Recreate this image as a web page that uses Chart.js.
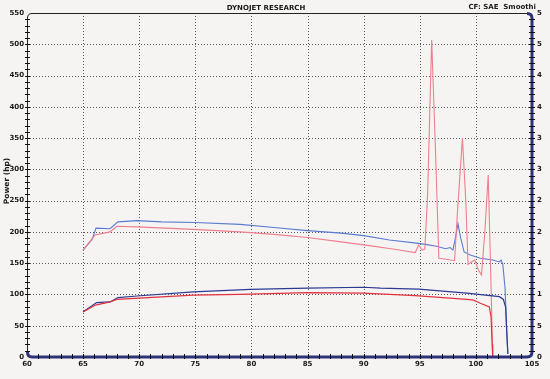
<!DOCTYPE html>
<html><head><meta charset="utf-8">
<script src="https://cdn.jsdelivr.net/npm/chart.js@4.4.0/dist/chart.umd.min.js"></script>
<style>html,body{margin:0;padding:0;background:#f5f4f2;}canvas{display:block;}</style>
</head><body>
<canvas id="c" width="550" height="379"></canvas>
<script>
// ---- data ----
const xTicks = [60, 65, 70, 75, 80, 85, 90, 95, 100, 105];
const yTicks = [0, 50, 100, 150, 200, 250, 300, 350, 400, 450, 500, 550];
const rightLabels = ["0", "5", "1", "1", "2", "2", "3", "3", "4", "4", "5", "5"];

const run1PowerRpm = [65.0, 65.8, 66.15, 67.4, 68.1, 69.8, 72, 75, 79, 82, 85, 88, 90, 92.3, 94.7, 95.5, 96.5, 97.3, 97.7, 97.95, 98.15, 98.4, 98.65, 98.95, 99.5, 100.4, 101.5, 102.1, 102.25, 102.4, 102.6, 102.75, 102.85];
const run1PowerHp  = [171, 188, 206, 205, 216, 218, 216, 215, 212, 207, 202, 198, 194, 187, 182, 180, 177, 173, 175, 171, 188, 213, 190, 168, 163, 158, 155, 152, 155, 148, 110, 40, 5];

const run2PowerRpm = [65.0, 66.06, 67.4, 68.0, 69.8, 74.8, 79, 82, 85, 88, 90.5, 92.9, 94.6, 94.9, 95.2, 95.45, 95.7, 96.06, 96.4, 96.7, 97.5, 98.1, 98.35, 98.8, 99.1, 99.3, 99.6, 99.9, 100.2, 100.5, 100.8, 101.1, 101.3, 101.5];
const run2PowerHp  = [171, 195, 200, 209, 208, 204, 200, 196, 191, 184, 178, 172, 167, 179, 171, 172, 260, 507, 330, 158, 156, 154, 230, 350, 250, 148, 152, 155, 140, 131, 200, 291, 150, 0];

const run1TorqueRpm = [65.0, 65.8, 66.2, 67.4, 68.1, 69.8, 74.8, 79.9, 85, 90, 91.5, 94.9, 99.2, 102.1, 102.45, 102.65, 102.75, 102.85];
const run1TorqueVal = [72.5, 82, 87, 88, 95, 97.5, 104, 108, 110, 111.5, 110, 108.5, 102, 96.5, 92, 80, 40, 5];

const run2TorqueRpm = [65.0, 66.1, 67.4, 68.0, 74.8, 79, 85, 90, 94.6, 99.2, 99.8, 100.4, 101.2, 101.35, 101.45, 101.5];
const run2TorqueVal = [72, 83, 88, 92, 99, 100, 103, 102, 98, 92, 91, 86, 80, 64, 20, 0];

const pts = (xs, ys) => xs.map((x, i) => ({x: x, y: ys[i]}));

const FONT = "'DejaVu Sans', Verdana, sans-serif";
const NAVY = '#2f3276';

const decor = {
  id: 'decor',
  beforeDraw(chart) {
    const c = chart.ctx;
    c.save();
    c.fillStyle = '#f5f4f2';
    c.fillRect(0, 0, chart.width, chart.height);
    c.restore();
  },
  beforeDatasetsDraw(chart) {
    const c = chart.ctx, xs = chart.scales.x, ys = chart.scales.y, a = chart.chartArea;
    c.save();
    c.strokeStyle = '#5a5a5a';
    c.lineWidth = 1;
    c.setLineDash([1, 2]);
    xTicks.forEach(v => {
      if (v === 60 || v === 105) return;
      const px = Math.round(xs.getPixelForValue(v)) + 0.5;
      c.beginPath(); c.moveTo(px, a.top); c.lineTo(px, a.bottom); c.stroke();
    });
    yTicks.forEach(v => {
      if (v === 0 || v === 550) return;
      const py = Math.round(ys.getPixelForValue(v)) + 0.5;
      c.beginPath(); c.moveTo(a.left, py); c.lineTo(a.right, py); c.stroke();
    });
    c.restore();
  },
  afterDraw(chart) {
    const c = chart.ctx, xs = chart.scales.x, ys = chart.scales.y, a = chart.chartArea;
    const L = a.left, R = a.right, T = a.top, B = a.bottom, r = 5;
    c.save();
    // thin top and left border
    c.strokeStyle = '#222';
    c.lineWidth = 1;
    c.beginPath();
    c.moveTo(L + 0.5, B - r);
    c.lineTo(L + 0.5, T + r);
    c.quadraticCurveTo(L + 0.5, T + 0.5, L + r, T + 0.5);
    c.lineTo(R - r, T + 0.5);
    c.stroke();
    // thick navy right and bottom border
    c.strokeStyle = NAVY;
    c.lineWidth = 3;
    c.beginPath();
    c.moveTo(R - r, T + 0.5);
    c.quadraticCurveTo(R, T + 0.5, R, T + r);
    c.lineTo(R, B - r);
    c.quadraticCurveTo(R, B, R - r, B);
    c.lineTo(L + r, B);
    c.quadraticCurveTo(L + 0.5, B, L + 0.5, B - r);
    c.stroke();
    // minor ticks
    c.strokeStyle = '#111';
    c.lineWidth = 1;
    c.beginPath();
    for (let v = 10; v < 550; v += 10) {
      const py = Math.round(ys.getPixelForValue(v)) + 0.5;
      c.moveTo(L - 2, py); c.lineTo(L + 3, py);
      c.moveTo(R - 3, py); c.lineTo(R + 3, py);
    }
    for (let v = 61; v < 105; v += 1) {
      const px = Math.round(xs.getPixelForValue(v)) + 0.5;
      c.moveTo(px, B - 3); c.lineTo(px, B + 2);
    }
    c.stroke();
    // texts
    c.fillStyle = '#1a1a1a';
    c.font = 'bold 7px ' + FONT;
    c.textBaseline = 'middle';
    c.textAlign = 'center';
    c.fillText('DYNOJET RESEARCH', 266, 8);
    c.textAlign = 'right';
    c.fillText('CF: SAE  Smoothi', 536, 7);
    c.translate(7, 181);
    c.rotate(-Math.PI / 2);
    c.textAlign = 'center';
    c.font = 'bold 7.5px ' + FONT;
    c.fillText('Power (hp)', 0, 0);
    c.restore();
  }
};

const lineDs = (label, data, color, w) => ({
  label: label, data: data, borderColor: color, borderWidth: w,
  pointRadius: 0, fill: false, tension: 0, showLine: true
});

new Chart(document.getElementById('c'), {
  type: 'scatter',
  data: {
    datasets: [
      lineDs('Run 2 Torque', pts(run2TorqueRpm, run2TorqueVal), '#e2323f', 1.2),
      lineDs('Run 1 Torque', pts(run1TorqueRpm, run1TorqueVal), '#2c3a94', 1.2),
      lineDs('Run 2 Power', pts(run2PowerRpm, run2PowerHp), '#ef7f8d', 1.1),
      lineDs('Run 1 Power', pts(run1PowerRpm, run1PowerHp), '#5a7bd2', 1.1)
    ]
  },
  options: {
    responsive: false,
    animation: false,
    devicePixelRatio: 1,
    layout: {padding: {top: 13, left: 0, right: 0, bottom: 0}},
    plugins: {legend: {display: false}, tooltip: {enabled: false}},
    scales: {
      x: {
        type: 'linear', min: 60, max: 105,
        afterBuildTicks: s => { s.ticks = xTicks.map(v => ({value: v})); },
        afterFit: s => { s.height = 22; },
        grid: {display: false, drawTicks: false},
        border: {display: false},
        ticks: {autoSkip: false, maxRotation: 0, padding: 3, color: '#1a1a1a', font: {family: FONT, size: 7, weight: 'bold'}}
      },
      y: {
        position: 'left', min: 0, max: 550,
        afterBuildTicks: s => { s.ticks = yTicks.map(v => ({value: v})); },
        afterFit: s => { s.width = 27; },
        grid: {display: false, drawTicks: false},
        border: {display: false},
        ticks: {autoSkip: false, padding: 3, color: '#1a1a1a', font: {family: FONT, size: 7, weight: 'bold'}}
      },
      y2: {
        position: 'right', min: 0, max: 550,
        afterBuildTicks: s => { s.ticks = yTicks.map(v => ({value: v})); },
        afterFit: s => { s.width = 18; },
        grid: {display: false, drawTicks: false},
        border: {display: false},
        ticks: {autoSkip: false, padding: 5, color: '#1a1a1a', font: {family: FONT, size: 7, weight: 'bold'},
          callback: (v, i) => rightLabels[i]}
      }
    }
  },
  plugins: [decor]
});
</script>
</body></html>
